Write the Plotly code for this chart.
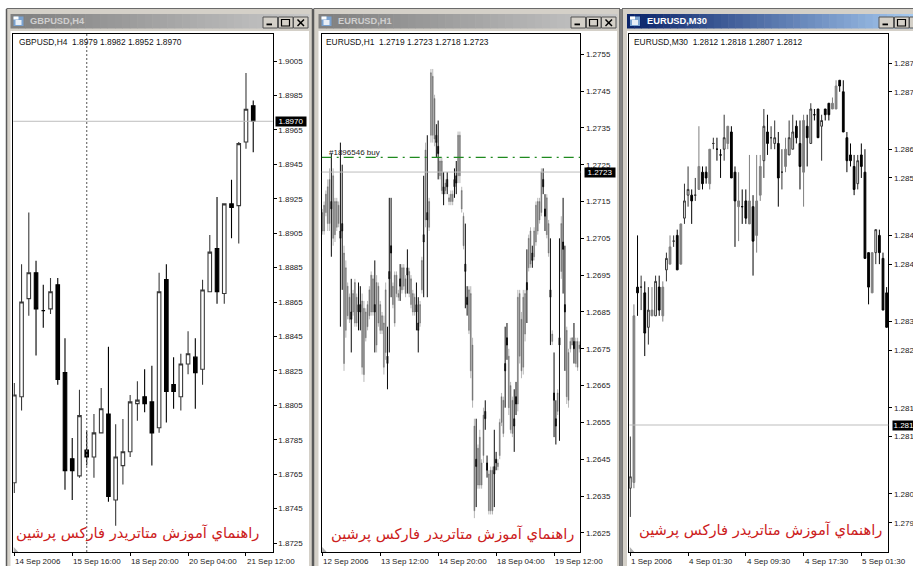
import plotly.graph_objects as go

W, H = 913, 566
# ---------- data: GBPUSD H4 ----------
g_open = [1.8760,1.8810,1.8867,1.8882,1.8860,1.8861,1.8875,1.8824,1.8774,1.8764,1.8779,1.8775,1.8789,1.8800,1.8750,1.8770,1.8778,1.8806,1.8810,1.8807,1.8792,1.8878,1.8817,1.8810,1.8829,1.8833,1.8826,1.8871,1.8896,1.8870,1.8922,1.8921,1.8958,1.8979]
g_high = [1.8818,1.8887,1.8917,1.8889,1.8875,1.8879,1.8879,1.8844,1.8786,1.8814,1.8790,1.8800,1.8815,1.8839,1.8794,1.8797,1.8811,1.8819,1.8826,1.8828,1.8882,1.8887,1.8833,1.8835,1.8848,1.8844,1.8878,1.8904,1.8926,1.8922,1.8936,1.8958,1.8998,1.8982]
g_low = [1.8754,1.8802,1.8857,1.8834,1.8850,1.8858,1.8817,1.8756,1.8750,1.8763,1.8770,1.8763,1.8789,1.8749,1.8735,1.8759,1.8775,1.8796,1.8801,1.8770,1.8789,1.8795,1.8803,1.8802,1.8823,1.8803,1.8817,1.8871,1.8864,1.8864,1.8902,1.8899,1.8954,1.8952]
g_close = [1.8811,1.8865,1.8882,1.8861,1.8860,1.8871,1.8820,1.8767,1.8767,1.8799,1.8775,1.8789,1.8803,1.8752,1.8775,1.8778,1.8807,1.8808,1.8806,1.8789,1.8871,1.8813,1.8813,1.8829,1.8835,1.8824,1.8872,1.8894,1.8871,1.8922,1.8920,1.8957,1.8977,1.8970]
g_ticks = [1.9005,1.8985,1.8965,1.8945,1.8925,1.8905,1.8885,1.8865,1.8845,1.8825,1.8805,1.8785,1.8765,1.8745,1.8725]
g_tick_text = ["1.9005","1.8985","1.8965","1.8945","1.8925","1.8905","1.8885","1.8865","1.8845","1.8825","1.8805","1.8785","1.8765","1.8745","1.8725"]
g_labels = ["14 Sep 2006","15 Sep 16:00","18 Sep 20:00","20 Sep 04:00","21 Sep 12:00"]
g_label_bars = [0,8,16,24,32]
g_last = 1.8970
g_last_text = "1.8970"
g_marker_bar = 10

# ---------- data: EURUSD H1 ----------
e_high = [1.2713,1.2715,1.2718,1.2721,1.2724,1.2728,1.2724,1.2716,1.2716,1.2715,
1.2731,1.2725,1.2703,1.2699,1.2693,1.2690,1.2694,1.2691,1.2694,1.2690,
1.2693,1.2692,1.2690,1.2688,1.2686,1.2688,1.2692,1.2696,1.2695,1.2699,
1.2695,1.2693,1.2688,1.2685,1.2684,1.2693,1.2681,1.2716,1.2716,1.2693,
1.2696,1.2696,1.2691,1.2698,1.2698,1.2698,1.2695,1.2702,1.2697,1.2695,
1.2691,1.2690,1.2693,1.2689,1.2688,1.2700,1.2722,1.2731,1.2733,1.2716,
1.2751,1.2751,1.2744,1.2736,1.2737,1.2727,1.2727,1.2723,1.2721,1.2723,
1.2717,1.2718,1.2718,1.2724,1.2726,1.2734,1.2734,1.2719,1.2712,1.2709,
1.2692,1.2692,1.2692,1.2678,1.2656,1.2656,1.2649,1.2653,1.2645,1.2659,
1.2661,1.2646,1.2642,1.2643,1.2643,1.2653,1.2647,1.2645,1.2656,1.2663,
1.2662,1.2681,1.2682,1.2675,1.2666,1.2662,1.2664,1.2666,1.2691,1.2691,
1.2685,1.2691,1.2691,1.2702,1.2706,1.2708,1.2703,1.2708,1.2715,1.2716,
1.2716,1.2724,1.2724,1.2717,1.2717,1.2710,1.2705,1.2680,1.2674,1.2661,
1.2664,1.2705,1.2711,1.2716,1.2703,1.2681,1.2675,1.2678,1.2678,1.2682,
1.2678,1.2678,1.2677,1.2678]
e_low = [1.2706,1.2706,1.2711,1.2707,1.2707,1.2700,1.2703,1.2704,1.2707,1.2708,
1.2681,1.2691,1.2669,1.2678,1.2683,1.2682,1.2674,1.2684,1.2681,1.2681,
1.2680,1.2680,1.2668,1.2666,1.2677,1.2680,1.2683,1.2684,1.2684,1.2674,
1.2674,1.2681,1.2679,1.2679,1.2668,1.2672,1.2664,1.2674,1.2689,1.2686,
1.2681,1.2689,1.2688,1.2688,1.2690,1.2691,1.2689,1.2690,1.2689,1.2686,
1.2684,1.2684,1.2680,1.2674,1.2681,1.2690,1.2689,1.2708,1.2689,1.2707,
1.2731,1.2731,1.2730,1.2727,1.2721,1.2721,1.2717,1.2714,1.2717,1.2717,
1.2714,1.2714,1.2714,1.2716,1.2717,1.2720,1.2720,1.2712,1.2702,1.2686,
1.2684,1.2679,1.2667,1.2659,1.2629,1.2632,1.2637,1.2637,1.2637,1.2644,
1.2653,1.2640,1.2630,1.2630,1.2630,1.2632,1.2642,1.2642,1.2645,1.2654,
1.2651,1.2659,1.2672,1.2657,1.2652,1.2651,1.2647,1.2657,1.2658,1.2671,
1.2667,1.2668,1.2677,1.2682,1.2696,1.2697,1.2697,1.2699,1.2703,1.2706,
1.2709,1.2711,1.2717,1.2707,1.2705,1.2700,1.2676,1.2676,1.2651,1.2649,
1.2657,1.2650,1.2694,1.2690,1.2669,1.2660,1.2659,1.2674,1.2676,1.2671,
1.2670,1.2669,1.2674,1.2670]
e_open = [1.2707,1.2707,1.2712,1.2709,1.2709,1.2715,1.2705,1.2706,1.2708,1.2709,
1.2707,1.2709,1.2671,1.2680,1.2684,1.2683,1.2685,1.2685,1.2682,1.2682,
1.2687,1.2687,1.2670,1.2668,1.2678,1.2681,1.2684,1.2685,1.2685,1.2687,
1.2676,1.2682,1.2680,1.2680,1.2670,1.2674,1.2673,1.2696,1.2703,1.2687,
1.2682,1.2690,1.2689,1.2694,1.2691,1.2692,1.2690,1.2697,1.2690,1.2687,
1.2685,1.2685,1.2687,1.2682,1.2682,1.2691,1.2706,1.2710,1.2712,1.2708,
1.2733,1.2733,1.2732,1.2733,1.2730,1.2722,1.2718,1.2719,1.2718,1.2721,
1.2715,1.2715,1.2715,1.2721,1.2722,1.2722,1.2722,1.2713,1.2703,1.2698,
1.2689,1.2680,1.2669,1.2661,1.2631,1.2645,1.2638,1.2638,1.2638,1.2646,
1.2658,1.2644,1.2631,1.2631,1.2631,1.2643,1.2645,1.2643,1.2646,1.2655,
1.2652,1.2671,1.2678,1.2659,1.2653,1.2652,1.2656,1.2662,1.2660,1.2673,
1.2669,1.2670,1.2679,1.2693,1.2697,1.2698,1.2701,1.2700,1.2704,1.2707,
1.2710,1.2712,1.2721,1.2713,1.2706,1.2701,1.2691,1.2677,1.2663,1.2656,
1.2658,1.2678,1.2696,1.2704,1.2687,1.2662,1.2661,1.2675,1.2676,1.2677,
1.2671,1.2670,1.2675,1.2675]
e_close = [1.2712,1.2714,1.2717,1.2719,1.2721,1.2713,1.2722,1.2715,1.2715,1.2714,
1.2705,1.2707,1.2701,1.2697,1.2692,1.2689,1.2683,1.2690,1.2693,1.2689,
1.2685,1.2685,1.2688,1.2686,1.2685,1.2687,1.2691,1.2695,1.2694,1.2685,
1.2693,1.2692,1.2687,1.2684,1.2682,1.2691,1.2671,1.2694,1.2701,1.2692,
1.2695,1.2695,1.2690,1.2692,1.2697,1.2697,1.2694,1.2695,1.2696,1.2694,
1.2690,1.2689,1.2685,1.2680,1.2687,1.2699,1.2704,1.2729,1.2710,1.2715,
1.2750,1.2749,1.2743,1.2731,1.2728,1.2726,1.2726,1.2717,1.2720,1.2719,
1.2716,1.2717,1.2717,1.2719,1.2720,1.2733,1.2733,1.2718,1.2711,1.2696,
1.2687,1.2691,1.2690,1.2676,1.2654,1.2643,1.2648,1.2651,1.2644,1.2657,
1.2656,1.2642,1.2641,1.2642,1.2642,1.2641,1.2644,1.2644,1.2655,1.2662,
1.2661,1.2669,1.2676,1.2673,1.2665,1.2661,1.2654,1.2660,1.2689,1.2690,
1.2683,1.2689,1.2690,1.2691,1.2705,1.2707,1.2699,1.2707,1.2714,1.2715,
1.2715,1.2723,1.2719,1.2711,1.2716,1.2709,1.2689,1.2679,1.2661,1.2654,
1.2663,1.2676,1.2709,1.2702,1.2685,1.2680,1.2674,1.2677,1.2678,1.2675,
1.2677,1.2677,1.2676,1.2673]
e_ticks = [1.2755,1.2745,1.2735,1.2725,1.2715,1.2705,1.2695,1.2685,1.2675,1.2665,1.2655,1.2645,1.2635,1.2625]
e_tick_text = ["1.2755","1.2745","1.2735","1.2725","1.2715","1.2705","1.2695","1.2685","1.2675","1.2665","1.2655","1.2645","1.2635","1.2625"]
e_labels = ["12 Sep 2006","13 Sep 12:00","14 Sep 20:00","18 Sep 04:00","19 Sep 12:00"]
e_label_bars = [0,32,64,96,128]
e_last = 1.2723
e_last_text = "1.2723"
e_order = 1.2727

# ---------- data: EURUSD M30 ----------
m_open = [1.2801,1.2802,1.2836,1.2836,1.2835,1.2829,1.2831,1.2831,1.2836,1.2831,1.2839,1.2840,1.2844,1.2845,1.2840,1.2848,1.2852,1.2852,1.2852,1.2853,1.2856,1.2856,1.2854,1.2861,1.2860,1.2859,1.2860,1.2861,1.2863,1.2856,1.2850,1.2850,1.2851,1.2847,1.2850,1.2845,1.2852,1.2858,1.2863,1.2862,1.2861,1.2861,1.2856,1.2857,1.2859,1.2860,1.2864,1.2861,1.2856,1.2864,1.2861,1.2866,1.2867,1.2864,1.2867,1.2868,1.2867,1.2867,1.2872,1.2870,1.2862,1.2859,1.2857,1.2854,1.2859,1.2856,1.2842,1.2835,1.2842,1.2845,1.2841,1.2835]
m_high = [1.2810,1.2833,1.2845,1.2838,1.2837,1.2836,1.2836,1.2838,1.2838,1.2837,1.2842,1.2845,1.2845,1.2846,1.2847,1.2854,1.2857,1.2853,1.2855,1.2864,1.2857,1.2857,1.2860,1.2862,1.2862,1.2860,1.2866,1.2864,1.2864,1.2857,1.2856,1.2853,1.2853,1.2859,1.2852,1.2859,1.2859,1.2867,1.2866,1.2864,1.2865,1.2863,1.2860,1.2862,1.2865,1.2866,1.2865,1.2865,1.2866,1.2866,1.2868,1.2867,1.2867,1.2866,1.2867,1.2868,1.2869,1.2872,1.2872,1.2872,1.2863,1.2861,1.2859,1.2859,1.2861,1.2860,1.2842,1.2842,1.2846,1.2846,1.2842,1.2836]
m_low = [1.2796,1.2801,1.2831,1.2832,1.2824,1.2826,1.2831,1.2831,1.2831,1.2830,1.2837,1.2840,1.2843,1.2839,1.2840,1.2847,1.2850,1.2847,1.2851,1.2853,1.2853,1.2854,1.2853,1.2860,1.2858,1.2855,1.2858,1.2860,1.2855,1.2843,1.2844,1.2847,1.2847,1.2847,1.2838,1.2842,1.2851,1.2855,1.2859,1.2860,1.2860,1.2850,1.2853,1.2856,1.2859,1.2860,1.2861,1.2853,1.2850,1.2857,1.2861,1.2865,1.2862,1.2858,1.2865,1.2865,1.2867,1.2867,1.2870,1.2863,1.2856,1.2857,1.2852,1.2853,1.2855,1.2841,1.2833,1.2835,1.2840,1.2840,1.2832,1.2829]
m_close = [1.2803,1.2831,1.2835,1.2836,1.2828,1.2832,1.2832,1.2837,1.2832,1.2836,1.2841,1.2843,1.2844,1.2839,1.2847,1.2851,1.2853,1.2851,1.2852,1.2857,1.2854,1.2855,1.2860,1.2861,1.2860,1.2859,1.2862,1.2864,1.2855,1.2851,1.2851,1.2850,1.2848,1.2851,1.2844,1.2851,1.2857,1.2864,1.2861,1.2862,1.2862,1.2855,1.2856,1.2860,1.2862,1.2863,1.2862,1.2857,1.2865,1.2862,1.2867,1.2866,1.2862,1.2865,1.2866,1.2866,1.2868,1.2871,1.2871,1.2863,1.2858,1.2858,1.2853,1.2858,1.2857,1.2841,1.2836,1.2842,1.2846,1.2842,1.2832,1.2829]
m_gray_bars = [1,6,9,11,14,19,22,27,30,33,35,36,43,48,56,57,67]
m_ticks = [1.2875,1.2870,1.2860,1.2855,1.2845,1.2840,1.2830,1.2825,1.2815,1.2810,1.2800,1.2795]
m_tick_text = ["1.287","1.287","1.286","1.285","1.284","1.284","1.283","1.282","1.281","1.281","1.280","1.279"]
m_labels = ["1 Sep 2006","4 Sep 01:30","4 Sep 09:30","4 Sep 17:30","5 Sep 01:30"]
m_label_bars = [0,16,32,48,64]
m_last = 1.2812
m_last_text = "1.281"

watermark = "راهنماي آموزش متاتريدر فارکس پرشين"
BLACK = "#000000"
FONT = "Liberation Sans"

def px(x): return x / W
def py(y): return 1 - y / H

shapes, anns = [], []
def rect(x0, y0, x1, y1, fill, line=None, lw=1):
    shapes.append(dict(type="rect", xref="paper", yref="paper", x0=px(x0), x1=px(x1), y0=py(y0), y1=py(y1),
                       fillcolor=fill, line=dict(color=line or fill, width=lw if line else 0), layer="below"))
def seg(x0, y0, x1, y1, color="#000", lw=1):
    shapes.append(dict(type="line", xref="paper", yref="paper", x0=px(x0), x1=px(x1), y0=py(y0), y1=py(y1),
                       line=dict(color=color, width=lw), layer="below"))
def mix(a, b, t):
    return "rgb(%d,%d,%d)" % tuple(a[i] + (b[i] - a[i]) * t for i in range(3))

# window chrome
FACE = "#d4d0c8"
def window(x0, x1, cx0, cx1, title, active, btn):
    rect(x0, 9, x1, H + 2, FACE)
    seg(x0, 8.5, x1, 8.5, "#6a6a6a", 1.2)
    seg(x0, 9, x0, H, "#5a5a5a", 1.5)
    seg(x1, 9, x1, H, "#5a5a5a", 1.5)
    rect(cx0, 31, cx1, H + 2, "#ffffff")
    a, b = ((10, 36, 106), (166, 202, 240)) if active else ((128, 128, 128), (200, 200, 200))
    n = 40
    for k in range(n):
        rect(cx0 + (cx1 - cx0) * k / n, 14, cx0 + (cx1 - cx0) * (k + 1) / n + 0.5, 28.5, mix(a, b, k / (n - 1)))
    rect(cx0 + 3, 16.5, cx0 + 13, 26, "#7aa2d0")
    rect(cx0 + 5, 20, cx0 + 11, 25, "#e8eef6")
    rect(cx0 + 3, 16.5, cx0 + 8, 19.5, "#ffffff")
    anns.append(dict(text="<b>%s</b>" % title, xref="paper", yref="paper", x=px(cx0 + 17.5), y=py(21), xanchor="left",
                     yanchor="middle", showarrow=False, font=dict(family=FONT, size=9.3, color="#ffffff" if active else "#cfcfcf")))
    bw = 15
    for j, bx in enumerate(btn):
        rect(bx, 17, bx + bw - 0.5, 28, FACE, "#555555", 1)
        if j == 0:
            rect(bx + 3.5, 23.5, bx + 9, 25.3, "#000000")
        elif j == 1:
            shapes.append(dict(type="rect", xref="paper", yref="paper", x0=px(bx + 3), x1=px(bx + 11), y0=py(19.5), y1=py(26),
                               line=dict(color="#000", width=1.2), layer="below"))
        else:
            seg(bx + 4, 19.5, bx + 10.5, 26, "#000", 1.5)
            seg(bx + 10.5, 19.5, bx + 4, 26, "#000", 1.5)

rect(0, 0, W, H, "#ffffff")
window(6.5, 312.5, 10.5, 309, "GBPUSD,H4", False, [263, 278.5, 293.5])
window(313.5, 620, 318.5, 617, "EURUSD,H1", False, [571, 586.5, 601.5])
window(622, 916, 627, 916, "EURUSD,M30", True, [879, 894.5, 909.5])

TOP, BOT = 34, 552
panels = [
    dict(x0=13.3, x1=272.7, xr=[-0.14, 35.69], yr=[1.87198, 1.90207], ticks=g_ticks, text=g_tick_text, fmt=g_labels, bars=g_label_bars),
    dict(x0=321.7, x1=580.3, xr=[-0.33, 142.5], yr=[1.26198, 1.27605], ticks=e_ticks, text=e_tick_text, fmt=e_labels, bars=e_label_bars),
    dict(x0=629.3, x1=888.3, xr=[-0.28, 71.47], yr=[1.27899, 1.288005], ticks=m_ticks, text=m_tick_text, fmt=m_labels, bars=m_label_bars),
]

fig = go.Figure()

def candle(n, x, o, h, l, c, up, down, upfill, lw_up=1.0, lw_down=1.0):
    fig.add_trace(go.Candlestick(
        x=x, open=o, high=h, low=l, close=c, xaxis="x%s" % n, yaxis="y%s" % n, whiskerwidth=0,
        increasing=dict(line=dict(color=up, width=lw_up), fillcolor=upfill),
        decreasing=dict(line=dict(color=down, width=lw_down), fillcolor=down),
        hoverinfo="skip", showlegend=False))

candle(1, list(range(len(g_open))), g_open, g_high, g_low, g_close, "#3a3a3a", "#000000", "#ffffff", 1.1, 1.1)
candle(2, list(range(len(e_open))), e_open, e_high, e_low, e_close, "#6e6e6e", "#0a0a0a", "#6e6e6e", 0.5, 1.0)
idx_m = list(range(len(m_open)))
plain = [i for i in idx_m if i not in m_gray_bars]
def pick(a, ids): return [a[i] for i in ids]
candle(3, plain, pick(m_open, plain), pick(m_high, plain), pick(m_low, plain), pick(m_close, plain), "#333333", "#000000", "#ffffff")
candle(3, m_gray_bars, pick(m_open, m_gray_bars), pick(m_high, m_gray_bars), pick(m_low, m_gray_bars), pick(m_close, m_gray_bars), "#808080", "#808080", "#808080")

layout_axes = {}
for n, p in enumerate(panels, 1):
    sfx = "" if n == 1 else str(n)
    layout_axes["xaxis" + sfx] = dict(
        domain=[px(p["x0"]), px(p["x1"])], range=p["xr"], type="linear", anchor="y" + sfx,
        rangeslider=dict(visible=False), showgrid=False, zeroline=False, showline=True, mirror=True,
        linecolor=BLACK, linewidth=1, ticks="outside", ticklen=3, tickcolor=BLACK, tickwidth=1,
        tickmode="array", tickvals=p["bars"], showticklabels=False)
    layout_axes["yaxis" + sfx] = dict(
        domain=[py(BOT), py(TOP)], range=p["yr"], anchor="x" + sfx, side="right",
        showgrid=False, zeroline=False, showline=True, mirror=True, linecolor=BLACK, linewidth=1,
        ticks="outside", ticklen=3, tickcolor=BLACK, tickwidth=1, tickmode="array",
        tickvals=p["ticks"], ticktext=p["text"],
        tickfont=dict(family=FONT, size=8, color="#222222"))
    for b, t in zip(p["bars"], p["fmt"]):
        anns.append(dict(text=t, xref="x" + sfx, yref="paper", x=b, y=py(561), xanchor="left", yanchor="middle",
                         showarrow=False, xshift=-1, font=dict(family=FONT, size=8, color="#222222")))

# last-price lines and boxes
lasts = [(1, g_last, g_last_text, 13.3, 272.7, 275, 30), (2, e_last, e_last_text, 321.7, 580.3, 583.5, 30),
         (3, m_last, m_last_text, 629.3, 888.3, 891.5, 21.5)]
for n, v, txt, a, b, bx, bw in lasts:
    sfx = "" if n == 1 else str(n)
    shapes.append(dict(type="line", xref="paper", yref="y" + sfx, x0=px(a), x1=px(b), y0=v, y1=v,
                       line=dict(color="#bdbdbd", width=1), layer="above"))
    anns.append(dict(text=txt, xref="paper", yref="y" + sfx, x=px(bx), y=v, xanchor="left", yanchor="middle",
                     showarrow=False, bgcolor="#000000", width=bw, height=9, borderpad=0, align="center",
                     font=dict(family=FONT, size=8, color="#ffffff")))

# order line on EURUSD H1
shapes.append(dict(type="line", xref="x2", yref="y2", x0=panels[1]["xr"][0], x1=panels[1]["xr"][1], y0=e_order, y1=e_order,
                   line=dict(color="#1f8a1f", width=1.2, dash="10px,5px,2px,5px"), layer="above"))
anns.append(dict(text="#1896546 buy", xref="paper", yref="y2", x=px(326.5), y=e_order, yshift=5, xanchor="left", yanchor="middle",
                 showarrow=False, font=dict(family=FONT, size=8, color="#222222")))

# dotted period separator on GBPUSD
shapes.append(dict(type="line", xref="x", yref="paper", x0=g_marker_bar, x1=g_marker_bar, y0=py(BOT), y1=py(TOP),
                   line=dict(color="#707070", width=1.2, dash="2px,2px"), layer="above"))

# panel corner triangles
for p in panels:
    x = p["x0"]
    shapes.append(dict(type="path", xref="paper", yref="paper",
                       path="M %f %f L %f %f L %f %f Z" % (px(x + .5), py(BOT), px(x + .5), py(BOT - 5), px(x + 5), py(BOT)),
                       fillcolor="#b0b0b0", line=dict(width=0), layer="above"))

# chart headers
heads = [("GBPUSD,H4  1.8979 1.8982 1.8952 1.8970", 17.2), ("EURUSD,H1  1.2719 1.2723 1.2718 1.2723", 324.2),
         ("EURUSD,M30  1.2812 1.2818 1.2807 1.2812", 632.2)]
for t, x in heads:
    anns.append(dict(text=t.replace("  ", "\u00a0\u00a0"), xref="paper", yref="paper", x=px(x), y=py(42), xanchor="left", yanchor="middle",
                     showarrow=False, font=dict(family=FONT, size=8.4, color="#111111")))

# watermarks
for xc, yc in [(137, 533), (452, 534), (760, 530)]:
    anns.append(dict(text=watermark, xref="paper", yref="paper", x=px(xc), y=py(yc), xanchor="center", yanchor="middle",
                     showarrow=False, font=dict(family="DejaVu Sans", size=14.7, color="#cc2020")))

fig.update_layout(width=W, height=H, margin=dict(l=0, r=0, t=0, b=0, autoexpand=False), autosize=False,
                  paper_bgcolor="#ffffff", plot_bgcolor="rgba(0,0,0,0)", showlegend=False,
                  shapes=shapes, annotations=anns, **layout_axes)

fig.write_html("out.html", config=dict(displayModeBar=False),
               post_script="document.body.style.margin='0';document.body.style.overflow='hidden';")
